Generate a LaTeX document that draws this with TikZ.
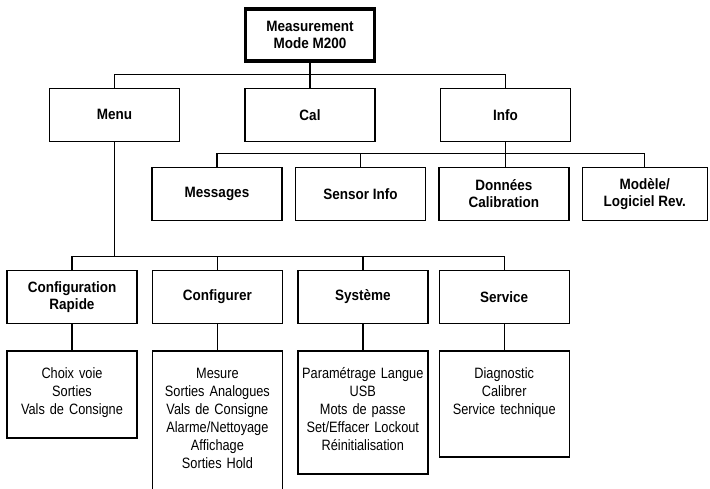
\documentclass[tikz,border=0pt]{standalone}
\usepackage{fontspec}
\setmainfont{Liberation Sans}
\newfontfamily\headfont{Liberation Sans}[FakeStretch=0.9]
\newfontfamily\itemfont{Liberation Sans}[FakeStretch=0.85]
\usetikzlibrary{positioning}

\begin{document}
\begin{tikzpicture}[x=1pt, y=1pt, node distance=26pt,
	menubox/.style={draw, line width=1.4pt, minimum width=130pt, minimum height=53pt,
		align=center, font=\headfont\bfseries\fontsize{15}{17}\selectfont},
	listbox/.style={draw, line width=1.4pt, text width=130pt, inner xsep=0pt, inner ysep=18pt,
		text height=10pt, align=center, font=\itemfont\fontsize{15}{18}\selectfont},
	wire/.style={line width=1.4pt}]
	\useasboundingbox (0,0) rectangle (710,-489);
	\clip (0,0) rectangle (710,-489);

	% Top and first level
	\node [menubox, line width=3.2pt, minimum width=129pt, minimum height=52pt] (mode) at (310,-35) {Measurement\\Mode M200};
	\node [menubox] (cal)  [below=25pt of mode] {Cal};
	\node [menubox] (menu) [left=64pt of cal]   {Menu};
	\node [menubox] (info) [right=64pt of cal]  {Info};

	% Info submenus
	\node [menubox] (messages) at (217,-194) {Messages};
	\node [menubox] (sensor)  [right=12pt of messages] {Sensor Info};
	\node [menubox] (donnees) [right=12pt of sensor]   {Données\\Calibration};
	\node [menubox, minimum width=125pt] (modele) [right=12pt of donnees] {Modèle/\\Logiciel Rev.};

	% Menu submenus
	\node [menubox] (rapide) at (72,-297) {Configuration\\Rapide};
	\node [menubox] (configurer) [right=14pt of rapide]     {Configurer};
	\node [menubox] (systeme)    [right=14pt of configurer] {Système};
	\node [menubox] (service)    [right=10pt of systeme]    {Service};

	% Item lists
	\node [listbox, text depth=41pt]  (rapidelist)     [below=26pt of rapide]
		{Choix voie\\Sorties\\Vals de Consigne};
	\node [listbox, text depth=104pt] (configurerlist) [below=26pt of configurer]
		{Mesure\\Sorties Analogues\\Vals de Consigne\\Alarme/Nettoyage\\Affichage\\Sorties Hold};
	\node [listbox, text depth=77pt]  (systemelist)    [below=26pt of systeme]
		{Paramétrage Langue\\USB\\Mots de passe\\Set/Effacer Lockout\\Réinitialisation};
	\node [listbox, text depth=60pt]  (servicelist)    [below=26pt of service]
		{Diagnostic\\Calibrer\\Service technique};

	% Paths
	\draw [wire] (mode) -- (cal);
	\draw [wire] (menu.north) -- ++(0,13) -| (info.north);
	\draw [wire] (messages.north) -- ++(0,13) -| (modele.north);
	\draw [wire] (info.south) -- (info.south |- donnees.north);
	\draw [wire] (sensor.north) -- ++(0,13);
	\draw [wire] (rapide.north) -- ++(0,13) coordinate (bus) -| (service.north);
	\draw [wire] (configurer.north) -- (configurer.north |- bus);
	\draw [wire] (systeme.north) -- (systeme.north |- bus);
	\draw [wire] (menu.south) -- (menu.south |- bus);
	\foreach \a in {rapide, configurer, systeme, service}
		\draw [wire] (\a) -- (\a list);
\end{tikzpicture}
\end{document}
